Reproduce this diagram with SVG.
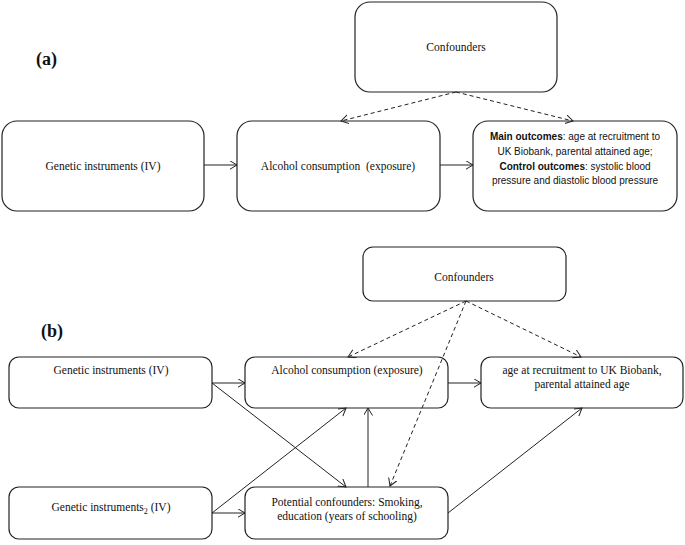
<svg xmlns="http://www.w3.org/2000/svg" width="685" height="545" viewBox="0 0 685 545">
<style>
.box{fill:#fff;stroke:#222;stroke-width:1.2}
.t{font-family:"Liberation Serif","Times New Roman",serif;font-size:11.5px;fill:#111;text-anchor:middle}
.s{font-family:"Liberation Sans",Arial,sans-serif;font-size:10px;fill:#111;text-anchor:middle}
.lab{font-family:"Liberation Serif","Times New Roman",serif;font-size:18px;font-weight:bold;fill:#111}
.c{fill:none;stroke:#222;stroke-width:1}
.d{fill:none;stroke:#222;stroke-width:1;stroke-dasharray:4,3}
</style>
<defs>
<marker id="ah" markerUnits="userSpaceOnUse" markerWidth="10" markerHeight="10" refX="7.5" refY="4.5" orient="auto" viewBox="0 0 10 10">
<path d="M0,0 L7.5,4.5 L0,9" fill="none" stroke="#222" stroke-width="1"/>
</marker>
</defs>
<rect width="685" height="545" fill="#fff"/>
<text class="lab" x="36" y="65">(a)</text>
<text class="lab" x="41" y="337">(b)</text>

<g id="a_confounders">
<rect class="box" x="355" y="2" width="202" height="90" rx="15"/>
<text class="t" x="456" y="51">Confounders</text>
</g>
<g id="a_genetic">
<rect class="box" x="2" y="121" width="202" height="90" rx="15"/>
<text class="t" x="103" y="170">Genetic instruments (IV)</text>
</g>
<g id="a_alcohol">
<rect class="box" x="237" y="121" width="203" height="90" rx="15"/>
<text class="t" x="338" y="170" xml:space="preserve">Alcohol consumption  (exposure)</text>
</g>
<g id="a_outcomes">
<rect class="box" x="473" y="121" width="204" height="90" rx="15"/>
<text class="s" x="575" y="140"><tspan font-weight="bold">Main outcomes</tspan>: age at recruitment to</text>
<text class="s" x="575" y="155">UK Biobank, parental attained age;</text>
<text class="s" x="575" y="170"><tspan font-weight="bold">Control outcomes</tspan>: systolic blood</text>
<text class="s" x="575" y="184">pressure and diastolic blood pressure</text>
</g>

<g id="b_confounders">
<rect class="box" x="363" y="247" width="203" height="54" rx="10"/>
<text class="t" x="464" y="281">Confounders</text>
</g>
<g id="b_genetic1">
<rect class="box" x="9" y="357" width="203" height="51" rx="10"/>
<text class="t" x="111" y="374">Genetic instruments (IV)</text>
</g>
<g id="b_alcohol">
<rect class="box" x="245" y="357" width="203" height="51" rx="10"/>
<text class="t" x="347" y="374">Alcohol consumption (exposure)</text>
</g>
<g id="b_outcome">
<rect class="box" x="481" y="357" width="202" height="51" rx="10"/>
<text class="t" x="582" y="374">age at recruitment to UK Biobank,</text>
<text class="t" x="582" y="388">parental attained age</text>
</g>
<g id="b_genetic2">
<rect class="box" x="9" y="487" width="203" height="52" rx="10"/>
<text class="t" x="111" y="511">Genetic instruments<tspan font-size="8" dy="3">2</tspan><tspan dy="-3"> (IV)</tspan></text>
</g>
<g id="b_potential">
<rect class="box" x="245" y="487" width="203" height="52" rx="10"/>
<text class="t" x="347" y="506">Potential confounders: Smoking,</text>
<text class="t" x="347" y="520">education (years of schooling)</text>
</g>

<g id="connectors">
<line class="c" x1="204" y1="165" x2="237" y2="165" marker-end="url(#ah)"/>
<line class="c" x1="440" y1="165" x2="473" y2="165" marker-end="url(#ah)"/>
<line class="d" x1="456" y1="92" x2="341" y2="121" marker-end="url(#ah)"/>
<line class="d" x1="456" y1="92" x2="573" y2="121" marker-end="url(#ah)"/>

<line class="c" x1="212" y1="383" x2="245" y2="383" marker-end="url(#ah)"/>
<line class="c" x1="448" y1="383" x2="481" y2="383" marker-end="url(#ah)"/>
<line class="c" x1="212" y1="383" x2="346" y2="487" marker-end="url(#ah)"/>
<line class="c" x1="212" y1="513" x2="346" y2="408" marker-end="url(#ah)"/>
<line class="c" x1="212" y1="513" x2="245" y2="513" marker-end="url(#ah)"/>
<line class="c" x1="368" y1="487" x2="368" y2="408" marker-end="url(#ah)"/>
<line class="c" x1="448" y1="513" x2="582" y2="408" marker-end="url(#ah)"/>
<line class="d" x1="466" y1="301" x2="348" y2="357" marker-end="url(#ah)"/>
<line class="d" x1="466" y1="301" x2="581" y2="357" marker-end="url(#ah)"/>
<line class="d" x1="466" y1="301" x2="390" y2="486" marker-end="url(#ah)"/>
</g>
</svg>
